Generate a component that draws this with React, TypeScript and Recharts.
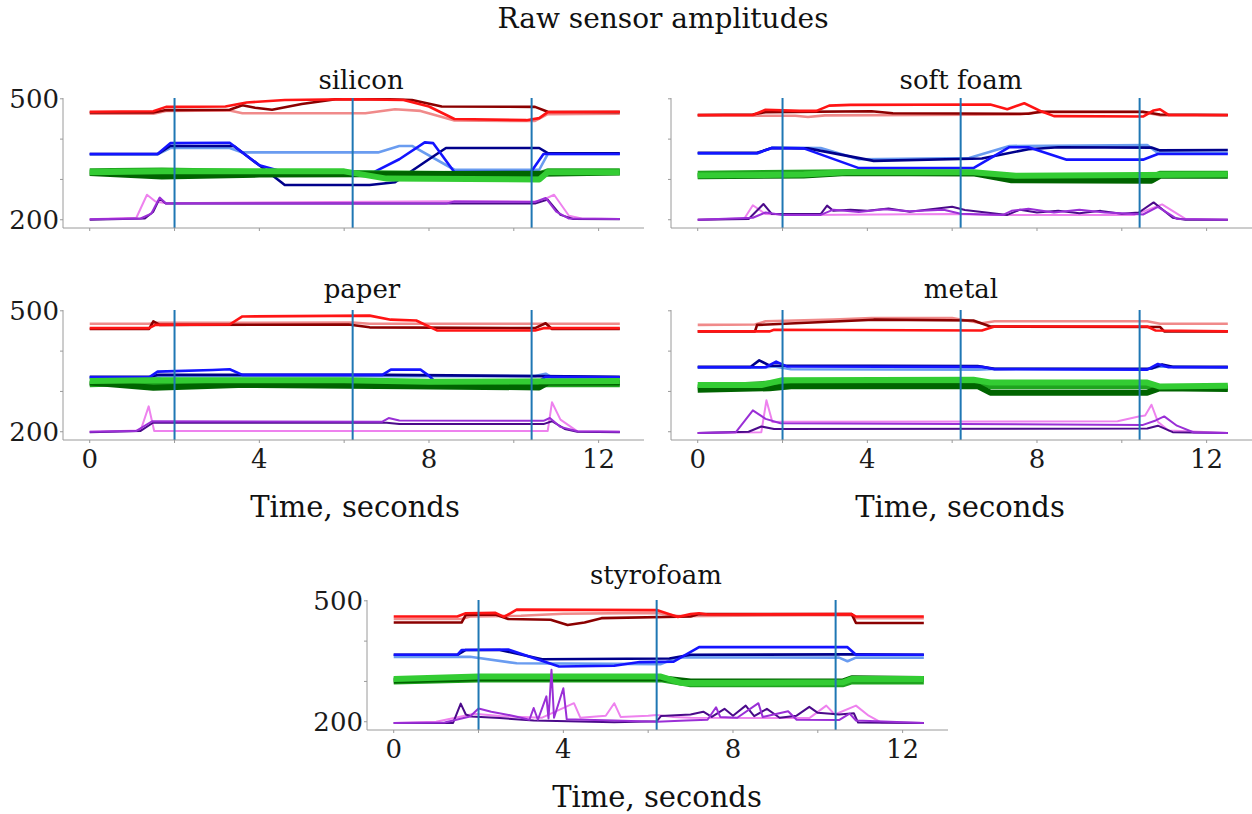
import React from "react";
import { LineChart, Line, XAxis, YAxis, ReferenceLine } from "recharts";

type Pt = [number, number];

const X_TICKS = [0, 2, 4, 6, 8, 10, 12];
const X_LABELS = [0, 4, 8, 12];
const Y_TICKS = [200, 250, 300, 350, 400, 450, 500];
const Y_LABELS = [200, 350, 500];
const EVENT_TIMES = [2.0, 6.2, 10.42];

// trace order in each group: bright, dark, light
const REDS = ["#ff1414", "#8b0000", "#f08a8a"];
const BLUES = ["#1414ff", "#00008b", "#6a9cf0"];
const GREENS = ["#33cc33", "#006400", "#1fa31f"];
const PURPLES = ["#9a2fd6", "#4b0a8a", "#ee82ee"];

// silicon
const siliconRed: Pt[][] = [
  [[0, 468], [1.5, 469], [1.8, 480], [3.2, 481], [3.7, 491], [4.6, 497], [6.2, 499], [7.4, 497], [8.0, 481], [8.6, 450], [10.3, 447], [10.6, 452], [10.8, 467], [12.5, 468]],
  [[0, 466], [1.5, 466], [1.8, 472], [3.3, 473], [3.6, 484], [3.9, 478], [4.3, 473], [5.0, 487], [5.8, 499], [7.0, 499], [7.6, 497], [8.3, 481], [10.5, 480], [10.8, 468], [12.5, 467]],
  [[0, 463], [1.5, 463], [1.8, 470], [3.3, 471], [3.6, 464], [6.5, 464], [7.2, 474], [7.8, 470], [8.6, 446], [10.5, 445], [10.8, 462], [12.5, 463]],
];
const siliconBlue: Pt[][] = [
  [[0, 363], [1.6, 363], [1.9, 390], [3.3, 391], [4.0, 335], [4.6, 318], [6.7, 318], [7.3, 350], [7.9, 392], [8.1, 390], [8.6, 318], [10.4, 318], [10.7, 363], [12.5, 363]],
  [[0, 363], [1.6, 363], [1.9, 383], [3.4, 383], [4.0, 335], [4.6, 286], [6.6, 286], [7.2, 293], [8.0, 350], [8.4, 378], [10.6, 378], [10.8, 365], [12.5, 365]],
  [[0, 362], [1.6, 362], [1.9, 378], [3.3, 378], [3.6, 367], [6.8, 367], [7.3, 383], [7.6, 383], [8.6, 324], [10.6, 324], [10.8, 363], [12.5, 363]],
];
const siliconGreen: Pt[][] = [
  [[0, 318], [1.7, 320], [6.0, 320], [7.0, 302], [10.6, 300], [10.8, 318], [12.5, 318]],
  [[0, 316], [1.7, 307], [4.0, 312], [6.5, 313], [10.6, 314], [12.5, 317]],
  [[0, 320], [1.7, 322], [4.0, 318], [8.0, 314], [10.6, 312], [10.8, 320], [12.5, 320]],
];
const siliconPurple: Pt[][] = [
  [[0, 201], [1.2, 203], [1.45, 215], [1.65, 255], [1.8, 240], [8.4, 240], [8.6, 245], [10.5, 244], [10.75, 254], [11.0, 220], [11.3, 203], [12.5, 202]],
  [[0, 200], [1.3, 203], [1.5, 220], [1.65, 253], [1.8, 240], [10.5, 240], [10.8, 250], [11.1, 212], [11.4, 202], [12.5, 201]],
  [[0, 201], [1.1, 205], [1.35, 262], [1.55, 245], [1.8, 241], [8.6, 246], [10.6, 245], [10.95, 262], [11.3, 210], [11.6, 203], [12.5, 202]],
];

// soft foam
const foamRed: Pt[][] = [
  [[0, 460], [1.3, 460], [1.6, 473], [2.4, 470], [2.8, 470], [3.1, 483], [3.6, 485], [6.9, 486], [7.3, 474], [7.7, 489], [8.1, 469], [8.4, 457], [10.5, 456], [10.75, 471], [10.9, 474], [11.1, 460], [12.5, 460]],
  [[0, 460], [1.3, 461], [1.6, 467], [4.1, 469], [4.6, 464], [7.8, 463], [8.1, 468], [10.5, 468], [10.9, 461], [12.5, 460]],
  [[0, 458], [2.3, 458], [2.6, 455], [3.0, 459], [7.6, 461], [8.0, 467], [10.5, 467], [10.9, 459], [12.5, 459]],
];
const foamBlue: Pt[][] = [
  [[0, 365], [1.4, 365], [1.75, 378], [2.5, 377], [3.8, 328], [6.5, 328], [7.35, 380], [7.8, 380], [8.7, 349], [10.5, 349], [10.85, 363], [12.5, 363]],
  [[0, 366], [1.4, 366], [1.75, 378], [2.6, 377], [4.15, 346], [6.7, 352], [7.8, 375], [8.5, 380], [10.7, 379], [10.9, 372], [12.5, 373]],
  [[0, 364], [1.4, 364], [1.75, 379], [2.9, 378], [3.8, 350], [6.4, 353], [7.35, 383], [10.6, 385], [10.85, 366], [12.5, 366]],
];
const foamGreen: Pt[][] = [
  [[0, 310], [2.5, 312], [3.5, 318], [6.5, 318], [7.5, 309], [12.5, 312]],
  [[0, 308], [2.5, 310], [3.5, 316], [6.5, 315], [7.4, 298], [10.7, 297], [10.9, 309], [12.5, 309]],
  [[0, 314], [3.5, 318], [6.5, 316], [7.5, 306], [10.7, 306], [10.9, 314], [12.5, 314]],
];
const foamPurple: Pt[][] = [
  [[0, 200], [1.3, 205], [1.6, 218], [2, 212], [2.9, 212], [3.2, 225], [3.8, 219], [4.4, 226], [5, 221], [5.8, 225], [6.2, 215], [7.2, 212], [7.4, 222], [7.8, 227], [8.4, 218], [9, 225], [9.6, 218], [10.2, 215], [10.5, 213], [10.85, 232], [11.3, 202], [12.5, 200]],
  [[0, 200], [1.2, 202], [1.55, 239], [1.75, 214], [2.9, 214], [3.05, 235], [3.2, 222], [3.6, 225], [4, 222], [4.5, 228], [5, 220], [5.5, 226], [6.0, 232], [6.3, 224], [7.3, 212], [7.6, 225], [8, 218], [8.5, 222], [9, 216], [9.5, 222], [10, 215], [10.4, 218], [10.75, 243], [11.2, 205], [11.5, 200], [12.5, 200]],
  [[0, 200], [1.1, 203], [1.3, 236], [1.6, 214], [2.5, 212], [6, 214], [7, 212], [10.3, 212], [10.95, 238], [11.5, 202], [12.5, 200]],
];

// paper
const paperRed: Pt[][] = [
  [[0, 457], [1.4, 457], [1.55, 465], [3.3, 466], [3.6, 486], [6.6, 488], [7.1, 478], [7.7, 476], [8.2, 451], [10.5, 451], [10.7, 457], [12.5, 457]],
  [[0, 455], [1.4, 455], [1.5, 474], [1.65, 465], [6.1, 466], [6.6, 459], [10.5, 457], [10.75, 469], [10.9, 455], [12.5, 455]],
  [[0, 468], [1.4, 468], [1.6, 470], [6.2, 471], [6.6, 468], [12.5, 468]],
];
const paperBlue: Pt[][] = [
  [[0, 335], [1.4, 335], [1.6, 349], [2.9, 353], [3.3, 355], [3.6, 341], [6.9, 341], [7.1, 354], [7.8, 354], [8.0, 339], [8.2, 318], [10.5, 318], [10.75, 336], [12.5, 335]],
  [[0, 336], [1.4, 336], [1.6, 341], [7, 341], [10.6, 338], [12.5, 336]],
  [[0, 334], [1.5, 334], [1.7, 338], [10.5, 338], [10.75, 344], [10.9, 335], [12.5, 335]],
];
const paperGreen: Pt[][] = [
  [[0, 326], [1.5, 328], [6, 328], [8, 324], [12.5, 326]],
  [[0, 322], [1.5, 309], [3.5, 316], [7.5, 313], [10.6, 310], [10.8, 322], [12.5, 322]],
  [[0, 318], [1.5, 322], [6, 322], [8, 318], [12.5, 318]],
];
const paperPurple: Pt[][] = [
  [[0, 200], [1.1, 202], [1.47, 226], [6.9, 225], [7.05, 234], [7.3, 228], [10.7, 227], [10.85, 234], [11.1, 212], [11.5, 201], [12.5, 200]],
  [[0, 199], [1.2, 202], [1.5, 223], [7, 222], [7.3, 219], [10.7, 219], [10.9, 226], [11.2, 207], [11.5, 200], [12.5, 199]],
  [[0, 200], [1.2, 203], [1.39, 263], [1.52, 202], [10.8, 202], [10.9, 273], [11.1, 230], [11.5, 201], [12.5, 200]],
];

// metal
const metalRed: Pt[][] = [
  [[0, 449], [1.7, 449], [1.8, 453], [6.7, 451], [7.0, 461], [10.6, 461], [10.8, 451], [12.5, 449]],
  [[0, 449], [1.35, 449], [1.4, 465], [4.15, 478], [6.5, 476], [6.9, 461], [10.9, 460], [11.0, 449], [12.5, 449]],
  [[0, 465], [1.35, 466], [1.6, 474], [3.2, 478], [4.1, 482], [6.0, 482], [6.7, 469], [7, 474], [10.6, 474], [10.9, 468], [12.5, 468]],
];
const metalBlue: Pt[][] = [
  [[0, 360], [1.6, 360], [1.85, 374], [2.1, 362], [6.7, 361], [7, 355], [10.6, 354], [10.85, 368], [11.1, 360], [12.5, 360]],
  [[0, 361], [1.25, 361], [1.45, 377], [1.7, 364], [6.6, 363], [7, 356], [10.7, 357], [10.95, 367], [11.2, 361], [12.5, 361]],
  [[0, 359], [1.5, 359], [1.8, 362], [2.2, 355], [6.6, 354], [7, 356], [10.6, 355], [10.9, 362], [12.5, 359]],
];
const metalGreen: Pt[][] = [
  [[0, 316], [1.5, 316], [2.0, 328], [6.5, 329], [6.9, 322], [10.6, 322], [10.9, 312], [12.5, 314]],
  [[0, 304], [1.7, 308], [2.2, 313], [6.6, 313], [6.9, 297], [10.6, 297], [10.9, 308], [12.5, 306]],
  [[0, 310], [1.8, 320], [6.6, 321], [6.9, 313], [10.6, 313], [10.9, 310], [12.5, 310]],
];
const metalPurple: Pt[][] = [
  [[0, 197], [0.9, 199], [1.3, 253], [1.6, 232], [1.95, 221], [10.5, 217], [10.8, 228], [11.0, 238], [11.3, 215], [11.7, 198], [12.5, 197]],
  [[0, 197], [1.2, 200], [1.5, 213], [1.8, 207], [10.6, 208], [10.85, 215], [11.2, 199], [12.5, 197]],
  [[0, 197], [1.5, 199], [1.62, 278], [1.76, 224], [2, 225], [9.9, 226], [10.4, 238], [10.55, 240], [10.7, 267], [10.85, 225], [11.1, 203], [12.5, 197]],
];

// styrofoam
const styroRed: Pt[][] = [
  [[0, 461], [1.5, 461], [1.7, 469], [2.4, 470], [2.6, 460], [2.9, 478], [6.2, 477], [6.7, 460], [7.0, 467], [7.2, 469], [7.4, 466], [10.8, 467], [10.9, 461], [12.5, 461]],
  [[0, 446], [1.6, 446], [1.7, 465], [2.4, 466], [2.7, 455], [3.7, 453], [4.1, 440], [4.5, 446], [4.9, 457], [7.0, 461], [7.2, 467], [10.8, 467], [10.9, 445], [12.5, 445]],
  [[0, 455], [1.6, 455], [1.8, 461], [3, 463], [4, 468], [6.2, 470], [6.7, 462], [10.8, 465], [10.9, 457], [12.5, 457]],
];
const styroBlue: Pt[][] = [
  [[0, 366], [1.5, 366], [1.6, 378], [2.7, 379], [3.9, 337], [5.2, 339], [5.8, 348], [6.6, 349], [7.2, 385], [10.7, 385], [10.9, 366], [12.5, 366]],
  [[0, 366], [1.5, 366], [1.7, 378], [2.5, 378], [3.5, 355], [6.5, 357], [7.0, 366], [10.7, 367], [12.5, 366]],
  [[0, 361], [1.8, 361], [2.9, 345], [6.3, 343], [6.7, 360], [10.5, 359], [10.7, 350], [10.9, 359], [12.5, 359]],
];
const styroGreen: Pt[][] = [
  [[0, 306], [2, 312], [6.3, 312], [6.8, 296], [10.6, 298], [10.8, 306], [12.5, 306]],
  [[0, 302], [2, 308], [6.3, 308], [7, 300], [10.6, 300], [10.8, 308], [12.5, 306]],
  [[0, 300], [2, 305], [6.3, 305], [7, 293], [10.6, 293], [10.8, 300], [12.5, 300]],
];
const styroPurple: Pt[][] = [
  [[0, 197], [1.2, 198], [1.8, 213], [2.0, 233], [2.3, 225], [2.8, 215], [3.2, 205], [3.3, 234], [3.4, 205], [3.6, 263], [3.65, 208], [3.72, 329], [3.78, 210], [4.0, 283], [4.08, 206], [4.5, 205], [5.2, 203], [6.2, 200], [6.9, 203], [7.4, 205], [7.6, 236], [7.7, 212], [8.1, 210], [8.6, 246], [8.7, 212], [9.3, 226], [9.5, 205], [10.5, 204], [10.75, 220], [10.9, 203], [12.5, 197]],
  [[0, 197], [1.4, 197], [1.58, 245], [1.7, 218], [1.83, 213], [2.5, 209], [3.3, 203], [5.2, 199], [6.2, 201], [6.3, 214], [7.0, 218], [7.3, 225], [7.5, 212], [7.8, 232], [8.0, 215], [8.3, 240], [8.5, 214], [8.8, 232], [9.1, 210], [9.5, 215], [9.8, 237], [10.0, 222], [10.3, 220], [10.5, 218], [10.85, 221], [10.95, 198], [12.5, 197]],
  [[0, 197], [1.0, 200], [1.9, 220], [2.5, 214], [3.5, 210], [4.25, 246], [4.4, 210], [5.0, 215], [5.2, 246], [5.35, 212], [6.0, 215], [6.2, 217], [6.6, 212], [7, 210], [9.8, 209], [10.2, 240], [10.4, 218], [10.9, 240], [11.2, 215], [11.5, 198], [12.5, 197]],
];

const FONT = "'DejaVu Serif', serif";
const TICK_FONT = 26;
const PLOT_W = 581;
const PLOT_H = 130;
const AXIS_W = 62;
const AXIS_H = 44;
const PAD_TOP = 20;

const toRows = (pts: Pt[]) => pts.map(([t, v]) => ({ t, v }));

interface PanelProps {
  left: number;
  top: number;
  groups: Pt[][][];
  yLabels?: boolean;
  xLabels?: boolean;
}

const GROUP_STYLE = [
  { colors: REDS, width: 2.6 },
  { colors: BLUES, width: 2.6 },
  { colors: GREENS, width: 6 },
  { colors: PURPLES, width: 2 },
];
const DRAW_ORDER = [2, 1, 0];

function Panel({ left, top, groups, yLabels, xLabels }: PanelProps) {
  const xTick = (p: any) => {
    if (!xLabels || !X_LABELS.includes(p.payload.value)) return <g />;
    return (
      <text x={p.x} y={p.y} dy="0.71em" textAnchor="middle" fill="#1a1a1a" fontSize={TICK_FONT} fontFamily={FONT}>
        {p.payload.value}
      </text>
    );
  };
  const yTick = (p: any) => {
    if (!yLabels || !Y_LABELS.includes(p.payload.value)) return <g />;
    return (
      <text x={p.x} y={p.y} dy="0.36em" textAnchor="end" fill="#1a1a1a" fontSize={TICK_FONT} fontFamily={FONT}>
        {p.payload.value}
      </text>
    );
  };
  return (
    <div style={{ position: "absolute", left: left - AXIS_W, top: top - PAD_TOP }}>
      <LineChart width={PLOT_W + AXIS_W + 4} height={PLOT_H + PAD_TOP + AXIS_H}
        margin={{ top: PAD_TOP, right: 4, bottom: 0, left: 0 }}>
        <XAxis dataKey="t" type="number" domain={[-0.63, 13.07]} ticks={X_TICKS} height={AXIS_H}
          tickSize={3} tickMargin={7} stroke="#9a9a9a" tick={xTick} allowDataOverflow />
        <YAxis type="number" domain={[179.5, 502]} ticks={Y_TICKS} width={AXIS_W}
          tickSize={3} tickMargin={1} stroke="#9a9a9a" tick={yTick} allowDataOverflow />
        {groups.map((group, gi) =>
          DRAW_ORDER.map((ti) => (
            <Line key={`${gi}-${ti}`} data={toRows(group[ti])} dataKey="v" type="linear" dot={false}
              stroke={GROUP_STYLE[gi].colors[ti]} strokeWidth={GROUP_STYLE[gi].width}
              strokeLinejoin="round" isAnimationActive={false} />
          ))
        )}
        {EVENT_TIMES.map((t) => (
          <ReferenceLine key={t} x={t} stroke="#1f77b4" strokeWidth={2} />
        ))}
      </LineChart>
    </div>
  );
}

function Label({ x, baseline, size, text }: { x: number; baseline: number; size: number; text: string }) {
  return (
    <div style={{
      position: "absolute", left: x, top: baseline - 0.846 * size, transform: "translateX(-50%)",
      fontFamily: FONT, fontSize: size, lineHeight: 1, whiteSpace: "nowrap", color: "#111",
    }}>
      {text}
    </div>
  );
}

export default function App() {
  return (
    <div style={{ position: "absolute", left: 0, top: 0, width: 1252, height: 814, background: "#fff", overflow: "hidden" }}>
      <Label x={663} baseline={29} size={28} text="Raw sensor amplitudes" />
      <Label x={361} baseline={89} size={26} text="silicon" />
      <Label x={961} baseline={89} size={26} text="soft foam" />
      <Label x={362} baseline={298} size={26} text="paper" />
      <Label x={961} baseline={298} size={26} text="metal" />
      <Label x={656} baseline={584} size={26} text="styrofoam" />
      <Panel left={63} top={98} groups={[siliconRed, siliconBlue, siliconGreen, siliconPurple]} yLabels />
      <Panel left={671} top={98} groups={[foamRed, foamBlue, foamGreen, foamPurple]} />
      <Panel left={63} top={310} groups={[paperRed, paperBlue, paperGreen, paperPurple]} yLabels xLabels />
      <Panel left={671} top={310} groups={[metalRed, metalBlue, metalGreen, metalPurple]} xLabels />
      <Panel left={367} top={600} groups={[styroRed, styroBlue, styroGreen, styroPurple]} yLabels xLabels />
      <Label x={355} baseline={518} size={29} text="Time, seconds" />
      <Label x={960} baseline={518} size={29} text="Time, seconds" />
      <Label x={657} baseline={808} size={29} text="Time, seconds" />
    </div>
  );
}
